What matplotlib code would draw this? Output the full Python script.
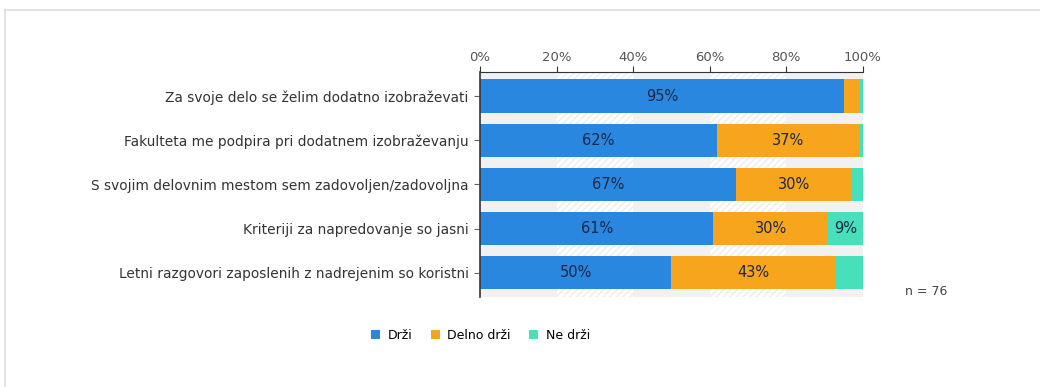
import matplotlib.pyplot as plt
from matplotlib.patches import Patch
from matplotlib.lines import Line2D
import numpy as np

questions = [
    "Za svoje delo se želim dodatno izobraževati",
    "Fakulteta me podpira pri dodatnem izobraževanju",
    "S svojim delovnim mestom sem zadovoljen/zadovoljna",
    "Kriteriji za napredovanje so jasni",
    "Letni razgovori zaposlenih z nadrejenim so koristni",
]
drzi = [95, 62, 67, 61, 50]
delno_drzi = [4, 37, 30, 30, 43]
ne_drzi = [1, 1, 3, 9, 7]
series_names = ["Drži", "Delno drži", "Ne drži"]
colors = ["#2a87e0", "#f8a51e", "#48dfbb"]
n_resp = 76

fig = plt.figure(figsize=(10.4, 3.87), dpi=100)
ax = fig.add_axes([0.4615, 0.2326, 0.368, 0.5814])

# light banded background behind the bars
for i, x0 in enumerate(range(0, 100, 20)):
    if i % 2 == 0:
        ax.axvspan(x0, x0 + 20, color="#f1f1f1", zorder=0, lw=0)
    else:
        ax.axvspan(x0, x0 + 20, facecolor="white", edgecolor="#ececec",
                   hatch="/////", zorder=0, lw=0)

y = np.arange(len(questions))
left = np.zeros(len(questions))
for name, vals, c in zip(series_names, [drzi, delno_drzi, ne_drzi], colors):
    vals = np.array(vals, dtype=float)
    ax.barh(y, vals, left=left, height=0.76, color=c, zorder=2, label=name)
    for yi, l, v in zip(y, left, vals):
        if v >= 8:
            ax.text(l + v / 2, yi, f"{v:.0f}%", ha="center", va="center",
                    fontsize=10.5, color="#1a2745", zorder=3)
    left += vals

ax.set_xlim(0, 100)
ax.set_ylim(len(questions) - 0.45, -0.55)
ax.set_yticks(y)
ax.set_yticklabels(questions, fontsize=9.9, color="#333333")
ax.set_xticks(range(0, 101, 20))
ax.set_xticklabels([f"{t}%" for t in range(0, 101, 20)], fontsize=9.5, color="#555555")
ax.xaxis.tick_top()
ax.tick_params(axis="x", length=4, width=0.8, color="#333333", pad=2)
ax.tick_params(axis="y", length=4, width=0.8, color="#666666", pad=4)
for s in ["right", "bottom"]:
    ax.spines[s].set_visible(False)
ax.spines["top"].set_color("#333333")
ax.spines["left"].set_color("#333333")
ax.spines["left"].set_linewidth(1.2)

fig.text(0.870, 0.248, f"n = {n_resp}", fontsize=9, color="#444444", va="center")

handles = [Patch(facecolor=c, edgecolor="none") for c in colors]
fig.legend(handles, series_names, loc="center", bbox_to_anchor=(0.462, 0.134),
           ncol=3, frameon=False, fontsize=9, handlelength=0.7, handleheight=0.7,
           handletextpad=0.6, columnspacing=1.5)

# thin frame around the chart area
fig.add_artist(Line2D([0.005, 1.0], [0.974, 0.974], color="#dddddd", lw=1.2))
fig.add_artist(Line2D([0.005, 0.005], [0.0, 0.974], color="#dddddd", lw=1.2))

fig.savefig("out.png", dpi=100)
